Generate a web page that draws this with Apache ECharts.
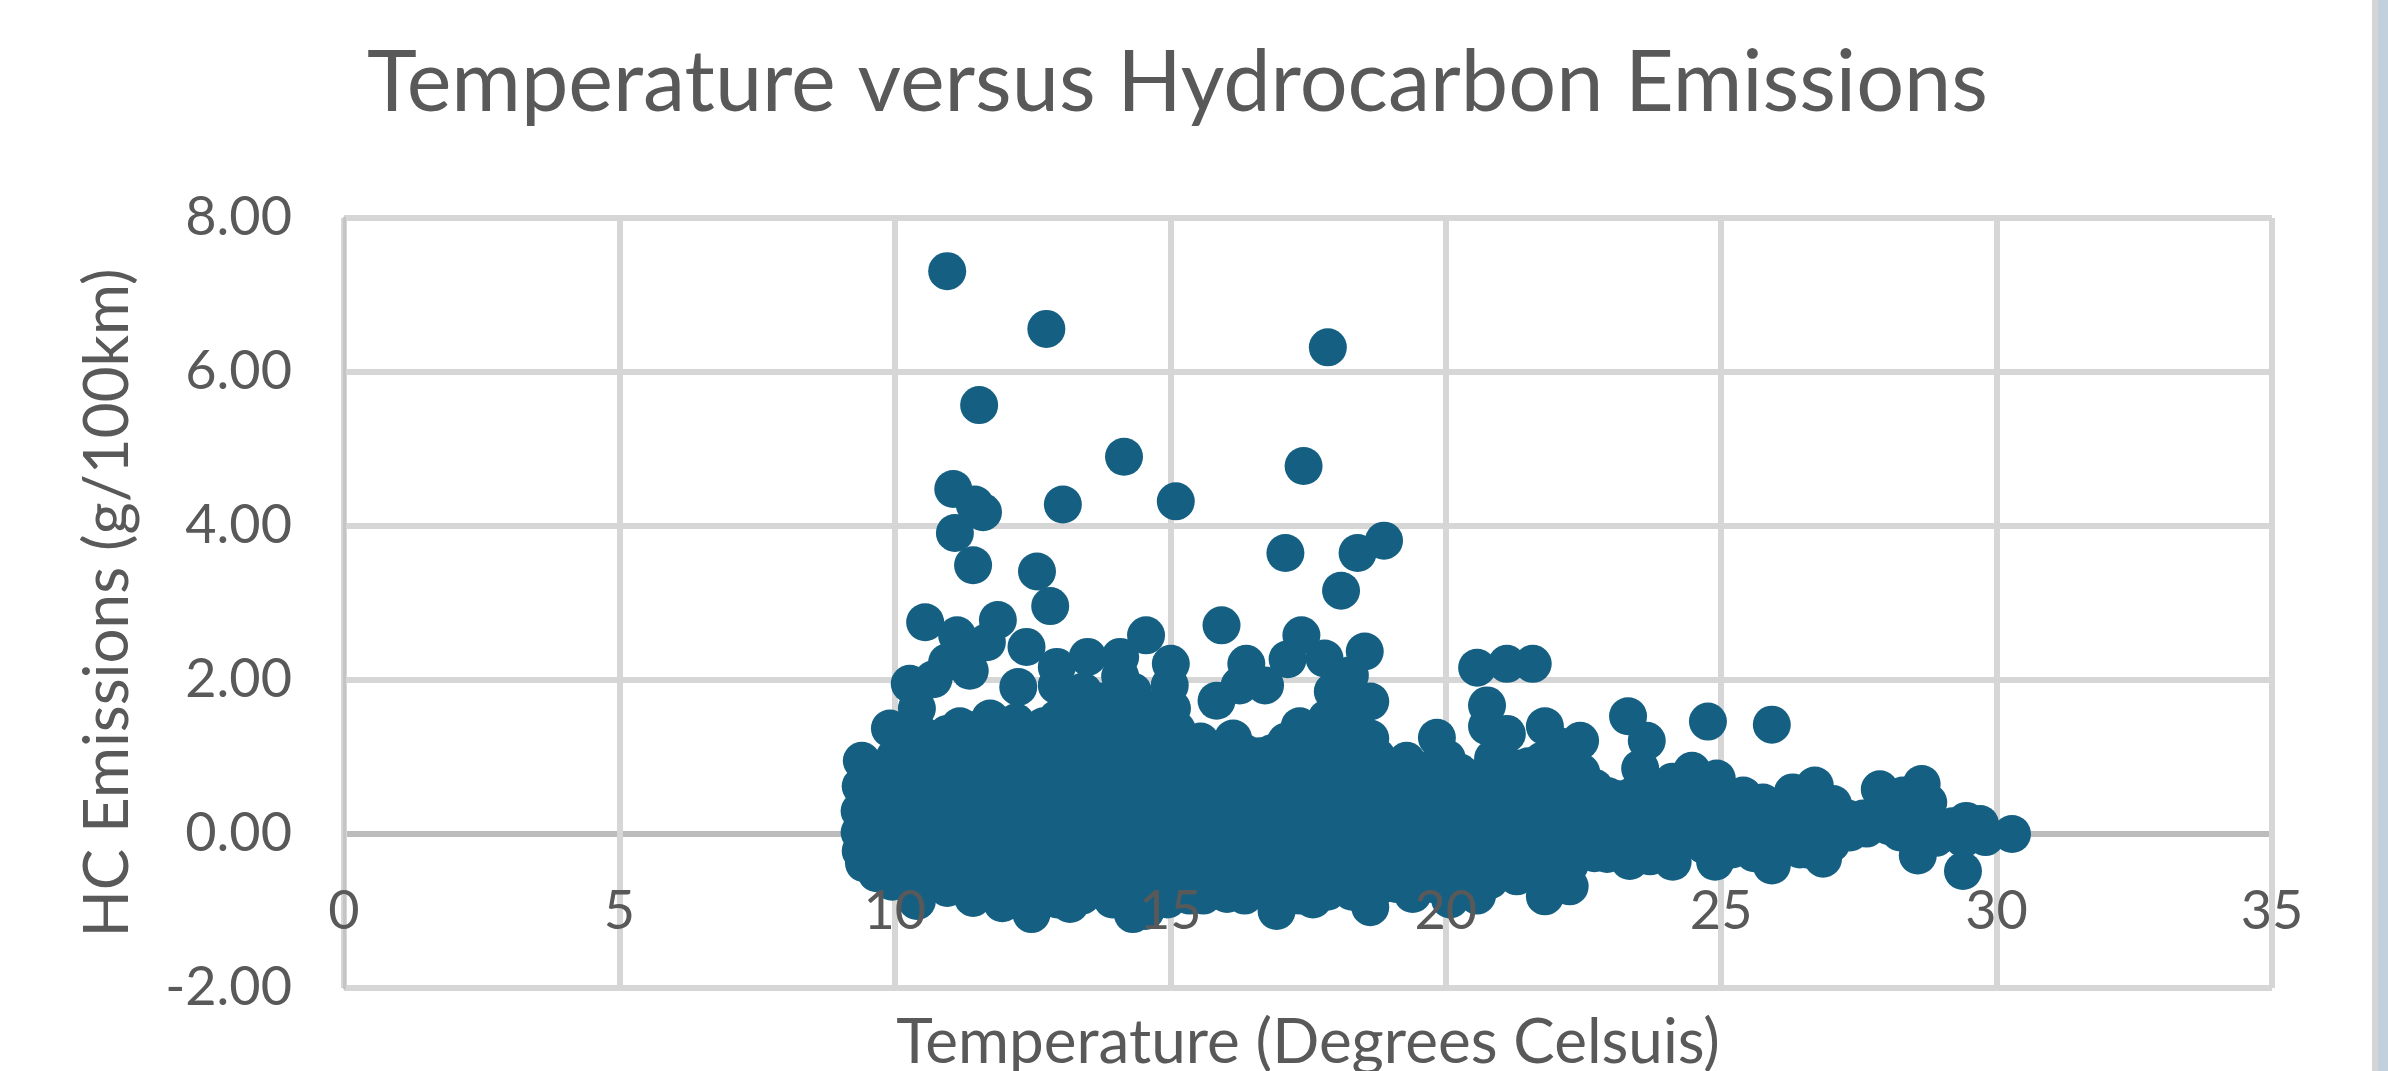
<!DOCTYPE html>
<html>
<head>
<meta charset="utf-8">
<style>html,body{margin:0;padding:0;background:#fff}#c{width:2388px;height:1071px}</style>
<script src="https://cdn.jsdelivr.net/npm/echarts@6/dist/echarts.min.js"></script>
</head>
<body>
<div id="c"></div>
<script>
const chartTitle = 'Temperature versus Hydrocarbon Emissions';
const xAxisTitle = 'Temperature (Degrees Celsuis)';
const yAxisTitle = 'HC Emissions (g/100km)';

// [temperature, HC emissions]
const outlierPoints = [
  [10.95,7.31],[12.75,6.56],[17.86,6.32],[11.53,5.57],[14.16,4.90],[17.42,4.78],
  [11.06,4.48],[15.10,4.32],[13.05,4.28],[11.45,4.28],[11.60,4.18],[11.09,3.91],
  [17.09,3.65],[18.40,3.65],[18.88,3.81],[18.10,3.16],[11.42,3.49],[12.58,3.41],
  [12.82,2.96],[10.55,2.75],[11.87,2.78],[15.93,2.71],[20.57,2.16],[21.11,2.21],
  [21.58,2.21],[23.31,1.53],[24.76,1.46],[25.92,1.42]
];
const upperClusterPoints = [
  [11.13,2.58],[12.39,2.43],[14.56,2.58],[13.50,2.30],[14.09,2.30],[12.94,2.17],
  [15.01,2.21],[12.24,1.91],[10.27,1.95],[11.36,2.12],[10.95,2.23],[11.67,2.49],
  [11.30,2.36],[10.70,2.01],[15.84,1.73],[16.38,2.21],[16.26,1.93],[16.72,1.93],
  [17.13,2.27],[17.38,2.58],[12.94,1.93],[13.42,1.85],[14.09,2.05],[14.32,1.85],
  [14.99,1.93],[15.03,1.63],[13.12,1.59],[13.75,1.72],[14.60,1.62],[9.91,1.37],
  [10.40,1.63],[18.53,2.37],[17.80,2.28],[18.26,2.06],[18.63,1.72],[17.95,1.85],
  [18.20,1.60],[17.84,1.50],[18.63,1.24],[20.75,1.67],[20.75,1.40],[21.11,1.30],
  [21.80,1.40],[22.44,1.21],[22.07,1.14],[23.65,1.21],[23.53,0.85]
];
const mainBlobPoints = [
  [9.40,0.95],[9.38,0.62],[9.36,0.30],[9.36,0.02],[9.38,-0.22],[9.44,-0.38],[9.67,-0.51],
  [9.80,0.78],[9.82,0.44],[9.78,0.10],[9.85,-0.26],[9.95,-0.62],
  [10.22,1.22],[10.25,0.88],[10.20,0.55],[10.28,0.18],[10.24,-0.14],[10.20,-0.48],[10.40,-0.87],
  [10.72,1.15],[10.68,0.80],[10.75,0.44],[10.70,0.10],[10.74,-0.26],[10.78,-0.62],[10.95,-0.70],
  [11.18,1.40],[11.22,1.05],[11.16,0.70],[11.24,0.34],[11.20,-0.04],[11.15,-0.40],[11.42,-0.83],
  [11.73,1.50],[11.70,1.12],[11.75,0.78],[11.68,0.42],[11.74,0.06],[11.70,-0.30],[11.76,-0.64],[11.95,-0.90],
  [12.20,1.45],[12.25,1.08],[12.18,0.72],[12.22,0.38],[12.26,0.02],[12.20,-0.34],[12.24,-0.70],[12.48,-1.04],
  [12.70,1.40],[12.74,1.04],[12.68,0.70],[12.72,0.34],[12.66,-0.02],[12.74,-0.38],[12.70,-0.74],
  [13.20,1.50],[13.18,1.12],[13.24,0.76],[13.16,0.42],[13.22,0.06],[13.20,-0.30],[13.18,-0.66],[13.18,-0.91],
  [13.62,1.45],[13.68,1.08],[13.64,0.72],[13.70,0.36],[13.66,0.00],[13.68,-0.36],[13.72,-0.72],
  [14.20,1.50],[14.16,1.14],[14.22,0.78],[14.18,0.42],[14.14,0.06],[14.20,-0.30],[14.18,-0.68],[14.32,-1.04],
  [14.70,1.45],[14.66,1.08],[14.72,0.72],[14.68,0.36],[14.74,0.02],[14.70,-0.34],[14.72,-0.72],[14.55,-1.00],
  [15.12,1.35],[15.18,1.00],[15.14,0.64],[15.20,0.30],[15.16,-0.06],[15.18,-0.42],[15.12,-0.75],
  [15.55,1.20],[15.62,0.86],[15.58,0.50],[15.64,0.14],[15.60,-0.22],[15.62,-0.58],[15.60,-0.80],
  [16.14,1.24],[16.10,0.90],[16.16,0.54],[16.08,0.18],[16.14,-0.16],[16.10,-0.52],[16.03,-0.78],
  [16.63,1.01],[16.60,0.66],[16.66,0.30],[16.58,-0.06],[16.64,-0.42],[16.60,-0.72],[16.93,-1.00],
  [17.10,1.20],[17.16,0.84],[17.08,0.48],[17.14,0.12],[17.10,-0.24],[17.12,-0.60],
  [17.62,1.32],[17.58,0.96],[17.64,0.60],[17.56,0.24],[17.62,-0.12],[17.60,-0.48],[17.59,-0.85],
  [18.12,1.24],[18.16,0.88],[18.10,0.52],[18.14,0.16],[18.08,-0.20],[18.12,-0.56],
  [18.50,0.90],[18.56,0.56],[18.52,0.20],[18.58,-0.16],[18.54,-0.52],[18.63,-0.95],
  [19.29,0.95],[19.00,0.66],[19.04,0.30],[18.98,-0.06],[19.02,-0.42],[19.10,-0.65],
  [19.84,1.25],[20.02,0.98],[19.50,0.60],[19.54,0.24],[19.48,-0.12],[19.52,-0.48],[19.40,-0.78],
  [20.04,0.62],[19.98,0.26],[20.02,-0.10],[19.96,-0.46],[20.08,-0.85],
  [20.52,0.72],[20.56,0.36],[20.50,0.00],[20.54,-0.36],[20.57,-0.80]
];
const rightTailPoints = [
  [20.86,0.98],[21.05,0.66],[21.00,0.30],[21.06,-0.06],[21.02,-0.36],[21.29,-0.55],
  [21.50,0.88],[21.54,0.52],[21.48,0.16],[21.52,-0.20],[21.50,-0.48],[21.80,-0.81],
  [22.00,0.76],[22.04,0.40],[21.98,0.04],[22.02,-0.32],[22.25,-0.68],
  [22.46,0.80],[22.50,0.44],[22.44,0.10],[22.48,-0.22],
  [22.95,0.49],[22.98,0.16],[22.93,-0.26],
  [23.40,0.50],[23.44,0.14],[23.34,-0.35],
  [23.90,0.56],[23.86,0.20],[23.92,-0.10],[23.71,-0.29],
  [24.12,0.68],[24.47,0.82],[24.42,0.40],[24.46,0.04],[24.12,-0.36],
  [24.92,0.72],[24.96,0.30],[24.90,-0.04],[24.89,-0.36],
  [25.40,0.50],[25.47,0.14],[25.47,-0.07],
  [25.76,0.41],[25.90,0.10],[25.92,-0.41],
  [26.30,0.54],[26.34,0.16],[26.43,-0.20],
  [26.70,0.63],[26.76,0.24],[26.85,-0.32],
  [27.03,0.39],[27.10,0.02],[27.34,0.02],
  [27.58,0.20],[27.64,0.07],[27.88,0.58],[27.96,0.22],
  [28.30,0.50],[28.25,0.02],[28.64,0.65],[28.76,0.41],[28.70,0.08],[28.57,-0.28],
  [29.10,0.04],[29.45,0.17],[29.39,-0.48],[29.40,-0.06],[29.70,0.13],[29.80,-0.04],[30.28,0.00]
];
const denseLeftPoints = [
  [9.60,0.80],[9.60,0.45],[9.60,0.15],[9.60,-0.15],[9.60,-0.40],
  [10.00,1.00],[10.00,0.65],[10.00,0.30],[10.00,-0.05],[10.00,-0.40],
  [10.47,1.30],[10.47,1.00],[10.47,0.65],[10.47,0.30],[10.47,-0.05],[10.47,-0.40],[10.47,-0.70],
  [10.95,1.30],[10.95,0.95],[10.95,0.60],[10.95,0.25],[10.95,-0.10],[10.95,-0.45],
  [11.45,1.35],[11.45,1.00],[11.45,0.60],[11.45,0.20],[11.45,-0.15],[11.45,-0.55],
  [11.95,1.30],[11.95,0.95],[11.95,0.60],[11.95,0.20],[11.95,-0.15],[11.95,-0.50],
  [12.45,1.30],[12.45,0.90],[12.45,0.55],[12.45,0.20],[12.45,-0.15],[12.45,-0.50],[12.45,-0.85],
  [12.95,1.50],[12.95,1.25],[12.95,0.90],[12.95,0.55],[12.95,0.15],[12.95,-0.20],[12.95,-0.55],[12.95,-0.85],
  [13.40,1.60],[13.40,1.30],[13.40,0.95],[13.40,0.55],[13.40,0.20],[13.40,-0.15],[13.40,-0.50],[13.40,-0.80],
  [13.95,1.55],[13.95,1.30],[13.95,0.95],[13.95,0.60],[13.95,0.25],[13.95,-0.10],[13.95,-0.50],[13.95,-0.85],
  [14.45,1.60],[14.45,1.30],[14.45,0.95],[14.45,0.60],[14.45,0.20],[14.45,-0.15],[14.45,-0.50],[14.45,-0.85],
  [14.95,1.45],[14.95,1.20],[14.95,0.85],[14.95,0.50],[14.95,0.15],[14.95,-0.20],[14.95,-0.55],[14.95,-0.85]
];
const denseMiddlePoints = [
  [15.35,1.15],[15.35,0.80],[15.35,0.45],[15.35,0.10],[15.35,-0.25],[15.35,-0.60],[15.35,-0.80],
  [15.85,1.10],[15.85,0.75],[15.85,0.35],[15.85,0.00],[15.85,-0.35],[15.85,-0.70],
  [16.35,1.05],[16.35,0.70],[16.35,0.40],[16.35,0.00],[16.35,-0.35],[16.35,-0.65],[16.35,-0.80],
  [16.85,1.05],[16.85,0.70],[16.85,0.30],[16.85,-0.05],[16.85,-0.40],[16.85,-0.75],
  [17.35,1.40],[17.35,1.05],[17.35,0.70],[17.35,0.35],[17.35,0.00],[17.35,-0.40],[17.35,-0.70],[17.35,-0.80],
  [17.85,1.30],[17.85,0.95],[17.85,0.60],[17.85,0.25],[17.85,-0.10],[17.85,-0.45],[17.85,-0.75],
  [18.30,1.35],[18.30,1.00],[18.30,0.70],[18.30,0.35],[18.30,0.00],[18.30,-0.35],[18.30,-0.75],
  [18.75,1.00],[18.75,0.70],[18.75,0.35],[18.75,0.00],[18.75,-0.35],[18.75,-0.70],
  [19.25,0.80],[19.25,0.45],[19.25,0.10],[19.25,-0.25],[19.25,-0.60],
  [19.75,0.85],[19.75,0.45],[19.75,0.05],[19.75,-0.30],[19.75,-0.65],
  [20.25,0.80],[20.25,0.45],[20.25,0.10],[20.25,-0.25],[20.25,-0.65],
  [20.80,0.70],[20.80,0.45],[20.80,0.10],[20.80,-0.20],[20.80,-0.60],
  [21.30,0.85],[21.30,0.50],[21.30,0.15],[21.30,-0.20],[21.30,-0.45],
  [21.75,0.95],[21.75,0.60],[21.75,0.25],[21.75,-0.10],[21.75,-0.50],
  [22.25,0.95],[22.25,0.60],[22.25,0.25],[22.25,-0.10],[22.25,-0.40]
];
const denseTailPoints = [
  [22.70,0.60],[22.70,0.30],[22.70,-0.05],[22.70,-0.25],
  [23.15,0.45],[23.15,0.15],[23.15,-0.20],
  [23.65,0.50],[23.65,0.15],[23.65,-0.15],
  [24.20,0.55],[24.20,0.20],[24.20,-0.10],
  [24.70,0.50],[24.70,0.15],[24.70,-0.15],
  [25.20,0.45],[25.20,0.10],[25.20,-0.20],
  [25.60,0.25],[25.60,-0.05],[25.60,-0.25],
  [26.10,0.35],[26.10,0.05],[26.10,-0.20],
  [26.55,0.35],[26.55,0.05],[26.55,-0.20],
  [27.00,0.20],[27.00,-0.12],[27.30,0.20],
  [28.05,0.35],[28.05,0.10],[28.50,0.30],[28.50,0.00],
  [28.90,0.10],[28.90,-0.05],[29.20,0.10]
];

const allPoints = [...outlierPoints, ...upperClusterPoints, ...mainBlobPoints, ...rightTailPoints,
  ...denseLeftPoints, ...denseMiddlePoints, ...denseTailPoints];

const fontFamily = 'Lato';
const textColor = '#595959';
const gridColor = '#d6d6d6';
const zeroLineColor = '#bcbcbc';

const chart = echarts.init(document.getElementById('c'), null, {renderer: 'canvas'});
chart.setOption({
  animation: false,
  backgroundColor: '#fff',
  title: {
    text: chartTitle, left: 362, top: 36,
    textStyle: {fontFamily, fontSize: 84.6, fontWeight: 'normal', color: textColor}
  },
  grid: {left: 344, right: 116, top: 218, bottom: 83, containLabel: false, outerBoundsMode: 'none'},
  xAxis: [
    {
      type: 'value', min: 0, max: 35, interval: 5, position: 'bottom', z: 10, offset: -153,
      axisLine: {show: false, onZero: false}, axisTick: {show: false}, splitLine: {show: false},
      axisLabel: {show: true, margin: 50, fontFamily, fontSize: 54, color: textColor,
        showMinLabel: true, showMaxLabel: true}
    },
    {
      type: 'value', min: 0, max: 35, interval: 5, position: 'bottom', z: 0,
      axisLine: {show: false, onZero: false}, axisTick: {show: false}, axisLabel: {show: false},
      splitLine: {show: true, lineStyle: {color: gridColor, width: 6}},
      name: xAxisTitle, nameLocation: 'middle', nameGap: 24, nameMoveOverlap: false,
      nameTextStyle: {fontFamily, fontSize: 62, color: textColor, verticalAlign: 'top'}
    }
  ],
  yAxis: {
    type: 'value', min: -2, max: 8, interval: 2,
    axisLine: {show: true, onZero: false, lineStyle: {color: '#c4c4c4', width: 3}},
    axisTick: {show: false},
    splitLine: {show: true, lineStyle: {color: [gridColor, zeroLineColor, gridColor, gridColor, gridColor, gridColor], width: 6}},
    axisLabel: {margin: 52, fontFamily, fontSize: 54, color: textColor, formatter: v => v.toFixed(2)},
    name: yAxisTitle, nameLocation: 'middle', nameGap: 205, nameRotate: 90,
    nameTextStyle: {fontFamily, fontSize: 62, color: textColor}
  },
  series: [{
    type: 'scatter', xAxisIndex: 0, yAxisIndex: 0, z: 2,
    symbol: 'circle', symbolSize: 38,
    itemStyle: {color: '#156082', opacity: 1},
    data: allPoints
  }],
  graphic: [
    {type: 'rect', z: 20, silent: true, shape: {x: 2372, y: 0, width: 6, height: 1071}, style: {fill: '#d5d5d5'}},
    {type: 'rect', z: 20, silent: true, shape: {x: 2378, y: 0, width: 10, height: 1071}, style: {fill: '#c2cfdc'}}
  ]
});
</script>
</body>
</html>
